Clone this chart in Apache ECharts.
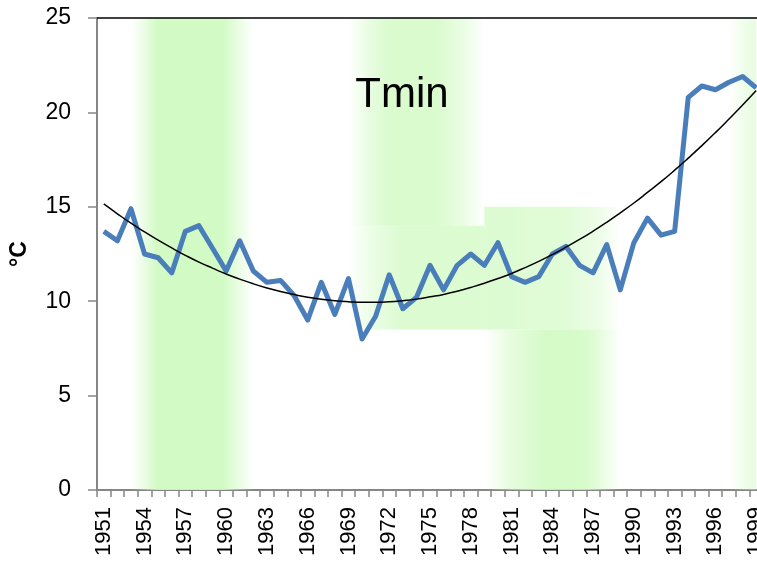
<!DOCTYPE html>
<html>
<head>
<meta charset="utf-8">
<script src="https://cdn.jsdelivr.net/npm/echarts@6/dist/echarts.min.js"></script>
<style>
html,body{margin:0;padding:0;background:#fff;}
#chart{width:757px;height:563px;}
</style>
</head>
<body>
<div id="chart"></div>
<script>
const years = ['1951','1952','1953','1954','1955','1956','1957','1958','1959','1960',
  '1961','1962','1963','1964','1965','1966','1967','1968','1969','1970',
  '1971','1972','1973','1974','1975','1976','1977','1978','1979','1980',
  '1981','1982','1983','1984','1985','1986','1987','1988','1989','1990',
  '1991','1992','1993','1994','1995','1996','1997','1998','1999'];

const tmin = [13.7,13.2,14.9,12.5,12.3,11.5,13.7,14.0,12.8,11.6,
  13.2,11.6,11.0,11.1,10.3,9.0,11.0,9.3,11.2,8.0,
  9.2,11.4,9.6,10.2,11.9,10.6,11.9,12.5,11.9,13.1,
  11.3,11.0,11.3,12.5,12.9,11.9,11.5,13.0,10.6,13.1,
  14.4,13.5,13.7,20.8,21.4,21.2,21.6,21.9,21.3];

const trend = [15.15,14.63,14.13,13.67,13.23,12.82,12.43,12.07,11.75,11.44,
  11.17,10.92,10.70,10.51,10.35,10.21,10.10,10.02,9.97,9.94,
  9.94,9.97,10.03,10.11,10.23,10.36,10.53,10.73,10.95,11.20,
  11.47,11.78,12.11,12.47,12.86,13.27,13.71,14.18,14.68,15.20,
  15.76,16.33,16.94,17.58,18.24,18.93,19.65,20.39,21.16];

const yTicks = [0,5,10,15,20,25];

// decorative green background patches: [fromYear, toYear, lowValue, highValue, direction, stops]
const G1 = 'rgba(205,250,190,';
const bgBands = [
  ['1953','1962',0,25,'h',[[0,0],[0.12,0.45],[0.22,0.9],[0.75,0.9],[0.86,0.5],[1,0]]],
  ['1969','1979',14,25,'h',[[0,0],[0.15,0.45],[0.3,0.75],[0.65,0.75],[0.85,0.4],[1,0]]],
  ['1969','1979',8.5,14,'h',[[0,0],[0.2,0.45],[0.4,0.7],[1,0.7]]],
  ['1979','1989',8.5,15,'h',[[0,0.7],[0.6,0.6],[0.85,0.35],[1,0]]],
  ['1979','1989',0,8.5,'h',[[0,0],[0.2,0.5],[0.45,0.85],[0.75,0.8],[0.9,0.35],[1,0]]],
  ['1997','1999',0,25,'h',[[0,0],[0.6,0.35],[1,0.45]]]
];

function grad(dir, stops){
  return {type:'linear', x:0, y:0, x2:dir==='h'?1:0, y2:dir==='h'?0:1,
    colorStops: stops.map(s=>({offset:s[0], color:G1+s[1]+')'}))};
}

const font = 'Liberation Sans';
const chart = echarts.init(document.getElementById('chart'), null, {renderer:'canvas'});
chart.setOption({
  animation:false,
  backgroundColor:'#ffffff',
  title:{
    text:'Tmin', left:397, top:69, textAlign:'center',
    textStyle:{fontFamily:font, fontSize:42, fontWeight:'normal', color:'#000'}
  },
  grid:{left:97, top:18, width:666, height:472, containLabel:false, outerBoundsMode:'none'},
  xAxis:{
    type:'category', data:years, boundaryGap:true,
    axisLine:{lineStyle:{color:'#868686', width:2}},
    axisTick:{show:true, interval:0, length:7, lineStyle:{color:'#868686', width:1.5}},
    axisLabel:{interval:2, rotate:90, margin:17, fontFamily:font, fontSize:22, color:'#000'},
    splitLine:{show:false}
  },
  yAxis:{
    type:'value', min:0, max:25, interval:5,
    name:'°C', nameLocation:'middle', nameGap:66, nameRotate:90,
    nameTextStyle:{fontFamily:font, fontSize:23, fontWeight:'bold', color:'#000'},
    axisLine:{show:true, lineStyle:{color:'#868686', width:2}},
    axisTick:{show:true, length:9, lineStyle:{color:'#868686', width:1.5}},
    axisLabel:{margin:26, fontFamily:font, fontSize:23, color:'#000',
      formatter:function(v){return yTicks.indexOf(v)>=0 ? String(v) : '';}},
    splitLine:{show:false}
  },
  series:[
    {
      type:'line', data:[], silent:true, z:1,
      markArea:{silent:true, data: bgBands.map(b=>[
        {xAxis:b[0], yAxis:b[2], itemStyle:{color:grad(b[4], b[5]), opacity:1}},
        {xAxis:b[1], yAxis:b[3]}
      ])},
      markLine:{silent:true, symbol:'none', label:{show:false},
        lineStyle:{color:'#000', width:1.5, type:'solid'},
        data:[{yAxis:25}]}
    },
    {
      name:'Tmin', type:'line', data:tmin, z:3,
      symbol:'none', clip:false,
      lineStyle:{color:'#4a7ebb', width:5, join:'round'}
    },
    {
      name:'trend', type:'line', data:trend, z:4, smooth:true,
      symbol:'none', clip:false,
      lineStyle:{color:'#000', width:1.5}
    }
  ]
});
</script>
</body>
</html>
